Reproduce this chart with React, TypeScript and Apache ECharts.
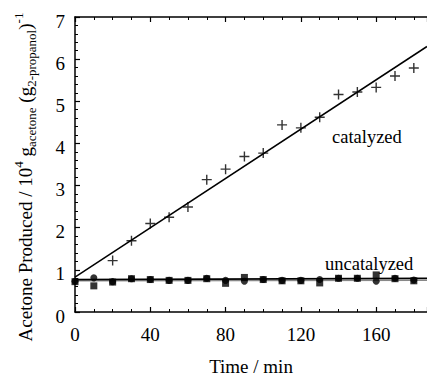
import React, { useEffect, useRef } from "react";
import * as echarts from "echarts";

// Time points (min)
const catTimes = [20, 30, 40, 50, 60, 70, 80, 90, 100, 110, 120, 130, 140, 150, 160, 170, 180];
// Catalyzed acetone production (10^4 g acetone / g 2-propanol)
const catValues = [1.22, 1.69, 2.1, 2.25, 2.49, 3.14, 3.39, 3.69, 3.77, 4.44, 4.37, 4.62, 5.16, 5.22, 5.33, 5.6, 5.79];

const uncatTimes = [0, 10, 20, 30, 40, 50, 60, 70, 80, 90, 100, 110, 120, 130, 140, 150, 160, 170, 180];
// Uncatalyzed run, circles
const uncatCircles = [0.73, 0.81, 0.72, 0.79, 0.77, 0.75, 0.75, 0.8, 0.75, 0.73, 0.77, 0.75, 0.75, 0.77, 0.8, 0.8, 0.73, 0.8, 0.76];
// Uncatalyzed run, squares
const uncatSquares = [0.72, 0.62, 0.71, 0.79, 0.77, 0.75, 0.75, 0.79, 0.68, 0.82, 0.77, 0.74, 0.74, 0.69, 0.8, 0.8, 0.88, 0.79, 0.74];

// Linear fits, endpoints [time, value]
const catalyzedFit = [[0, 0.83], [187, 6.3]];
const uncatalyzedFit = [[0, 0.77], [187, 0.8]];
const uncatalyzedFit2 = [[0, 0.74], [187, 0.75]];

const xTicks = { min: 0, max: 187, interval: 40 };
const yTicks = { min: 0, max: 7, interval: 1 };

const FONT = "'Liberation Serif', 'Times New Roman', Times, serif";
const PLUS = "path://M-0.7,-5H0.7V-0.7H5V0.7H0.7V5H-0.7V0.7H-5V-0.7H-0.7Z";

const serif = (size: number, extra: Record<string, unknown> = {}) => ({
  fontSize: size,
  fontFamily: FONT,
  color: "#000",
  fill: "#000",
  ...extra,
});

export default function App() {
  const ref = useRef<HTMLDivElement>(null);
  useEffect(() => {
    if (!ref.current) return;
    const chart = echarts.init(ref.current, null, { renderer: "svg" });
    const axisCommon = {
      type: "value" as const,
      axisLine: { show: true, lineStyle: { color: "#000", width: 1.5 } },
      axisTick: { show: true, inside: true, length: 5, lineStyle: { color: "#000", width: 1.2 } },
      minorTick: { show: true, length: 3, lineStyle: { color: "#000", width: 1 } },
      splitLine: { show: false },
    };
    const tickLabel = {
      ...serif(19),
      formatter: (v: number) => `{s|${v}}`,
      rich: { s: serif(19) },
    };
    chart.setOption({
      animation: false,
      backgroundColor: "#fff",
      textStyle: { fontFamily: FONT },
      grid: { left: 75, top: 17, right: 0, bottom: 62 },
      xAxis: [
        {
          ...axisCommon,
          ...xTicks,
          minorTick: { ...axisCommon.minorTick, splitNumber: 4 },
          axisLabel: { ...tickLabel, margin: 13, showMaxLabel: false },
          name: "{s|Time / min}",
          nameLocation: "middle",
          nameGap: 45,
          nameTextStyle: { ...serif(19), rich: { s: serif(19) } },
        },
        {
          ...axisCommon,
          ...xTicks,
          position: "top",
          minorTick: { ...axisCommon.minorTick, splitNumber: 4 },
          axisLabel: { show: false },
        },
      ],
      yAxis: {
        ...axisCommon,
        ...yTicks,
        minorTick: { ...axisCommon.minorTick, splitNumber: 5 },
        axisLabel: { ...tickLabel, margin: 10, padding: [8, 0, 0, 0] },
      },
      series: [
        {
          type: "line",
          data: uncatalyzedFit2,
          symbol: "none",
          lineStyle: { color: "#888", width: 1.2 },
          z: 2,
        },
        {
          type: "line",
          data: uncatalyzedFit,
          symbol: "none",
          lineStyle: { color: "#000", width: 1.8 },
          z: 3,
        },
        {
          type: "line",
          data: catalyzedFit,
          symbol: "none",
          lineStyle: { color: "#000", width: 1.5 },
          z: 3,
        },
        {
          type: "scatter",
          data: catTimes.map((t, i) => [t, catValues[i]]),
          symbol: PLUS,
          symbolSize: 10,
          itemStyle: { color: "#000" },
          z: 4,
        },
        {
          type: "scatter",
          data: uncatTimes.map((t, i) => [t, uncatSquares[i]]),
          symbol: "rect",
          symbolSize: 7,
          itemStyle: { color: "#000" },
          z: 4,
        },
        {
          type: "scatter",
          data: uncatTimes.map((t, i) => [t, uncatCircles[i]]),
          symbol: "circle",
          symbolSize: 7,
          itemStyle: { color: "#000" },
          z: 4,
        },
      ],
      graphic: [
        {
          // vertical axis title with sub/superscripts
          type: "text",
          x: 25,
          y: 177,
          rotation: Math.PI / 2,
          style: {
            text:
              "{a|Acetone Produced / 10}{sup|4}{a| g}{sub|acetone}{a| (g}{sub|2-propanol}{a|)}{sup|-1}",
            align: "center",
            verticalAlign: "middle",
            rich: {
              a: serif(19, { lineHeight: 26, verticalAlign: "middle" }),
              sup: serif(13, { lineHeight: 26, verticalAlign: "top" }),
              sub: serif(13, { lineHeight: 26, verticalAlign: "bottom" }),
            },
          },
        },
        {
          type: "text",
          left: 332,
          top: 127,
          style: { text: "{s|catalyzed}", rich: { s: serif(18.5) } },
        },
        {
          type: "text",
          left: 325,
          top: 254,
          style: { text: "{s|uncatalyzed}", rich: { s: serif(18.5) } },
        },
      ],
    });
    return () => chart.dispose();
  }, []);
  return <div ref={ref} style={{ width: 427, height: 381, position: "absolute", left: 0, top: 0 }} />;
}
